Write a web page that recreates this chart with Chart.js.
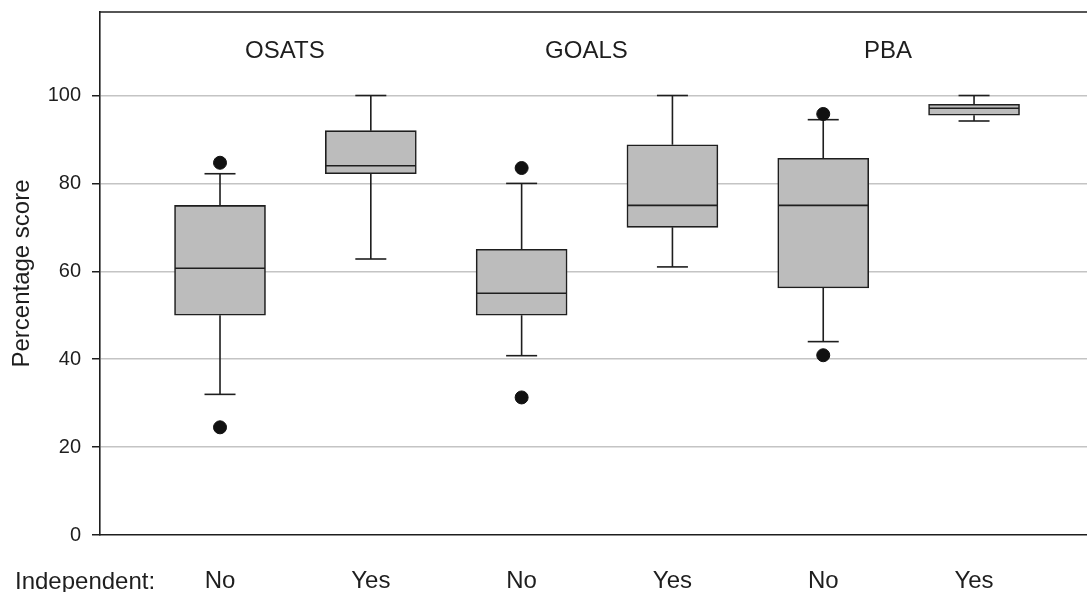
<!DOCTYPE html>
<html>
<head>
<meta charset="utf-8">
<script src="https://cdn.jsdelivr.net/npm/chart.js@4"></script>
<style>
  html, body { margin: 0; padding: 0; background: #fff; }
  #wrap { width: 1087px; height: 592px; }
</style>
</head>
<body>
<div id="wrap"><canvas id="grafica"></canvas></div>
<script>
// Box plot data (percentage scores)
const categories = ['No', 'Yes', 'No', 'Yes', 'No', 'Yes'];
const positions = [1, 2, 3, 4, 5, 6];
const groups = ['OSATS', 'GOALS', 'PBA'];
const groupPos = [1.43, 3.43, 5.43];
const whiskerLow = [32, 62.8, 40.8, 61, 44, 94.2];
const q1 = [50, 82.2, 50, 70, 56.2, 95.5];
const median = [60.7, 84, 55, 75, 75, 97.1];
const q3 = [75, 92, 65, 88.8, 85.7, 98];
const whiskerHigh = [82.2, 100, 80, 100, 94.5, 100];
const outliers = [[84.7, 24.5], [], [83.5, 31.3], [], [95.8, 40.9], []];
const yTicks = [0, 20, 40, 60, 80, 100];

const ink = '#1e1e1e';
const font = 'Liberation Sans, Arial, Helvetica, sans-serif';

// whiskers as one broken line
const whiskerPts = [];
positions.forEach((x, i) => {
    whiskerPts.push({x: x, y: whiskerLow[i]}, {x: x, y: q1[i]}, {x: x + 0.3, y: null});
    whiskerPts.push({x: x, y: q3[i]}, {x: x, y: whiskerHigh[i]}, {x: x + 0.3, y: null});
});
const capPts = [];
positions.forEach((x, i) => {
    capPts.push({x: x, y: whiskerLow[i]}, {x: x, y: whiskerHigh[i]});
});
const outlierPts = [];
positions.forEach((x, i) => outliers[i].forEach(v => outlierPts.push({x: x, y: v})));

const extras = {
    id: 'extras',
    afterDraw(chart) {
        const {ctx, chartArea, scales} = chart;
        ctx.save();
        // top frame line
        ctx.strokeStyle = ink;
        ctx.lineWidth = 1.5;
        ctx.beginPath();
        ctx.moveTo(chartArea.left - 0.75, chartArea.top);
        ctx.lineTo(chartArea.right, chartArea.top);
        ctx.stroke();
        ctx.fillStyle = ink;
        ctx.font = '24px ' + font;
        ctx.textAlign = 'center';
        ctx.textBaseline = 'middle';
        groups.forEach((g, i) => {
            ctx.fillText(g, scales.x.getPixelForValue(groupPos[i]), scales.y.getPixelForValue(110));
        });
        ctx.textAlign = 'left';
        ctx.textBaseline = 'alphabetic';
        ctx.fillText('Independent:', 15, 589);
        ctx.restore();
    }
};

const ctx = document.getElementById('grafica').getContext('2d');
const grafica = new Chart(ctx, {
    type: 'bar',
    data: {
        datasets: [
            {
                type: 'scatter',
                data: outlierPts,
                pointStyle: 'circle',
                pointRadius: 6.5,
                backgroundColor: '#111',
                borderColor: '#111',
                order: 0
            },
            {
                type: 'scatter',
                data: capPts,
                pointStyle: 'line',
                pointRadius: 15.5,
                borderColor: ink,
                borderWidth: 1.6,
                order: 1
            },
            {
                type: 'scatter',
                data: positions.map((x, i) => ({x: x, y: median[i]})),
                pointStyle: 'line',
                pointRadius: 45,
                borderColor: ink,
                borderWidth: 1.6,
                order: 2
            },
            {
                type: 'bar',
                data: positions.map((x, i) => ({x: x, y: [q1[i], q3[i]]})),
                backgroundColor: '#bcbcbc',
                borderColor: ink,
                borderWidth: 1.6,
                borderSkipped: false,
                barThickness: 91,
                order: 3
            },
            {
                type: 'line',
                data: whiskerPts,
                borderColor: ink,
                borderWidth: 1.6,
                pointRadius: 0,
                spanGaps: false,
                order: 4
            }
        ]
    },
    options: {
        responsive: true,
        maintainAspectRatio: false,
        animation: false,
        events: [],
        layout: { autoPadding: false, padding: { top: 12, right: 0, left: 0, bottom: 0 } },
        plugins: {
            legend: { display: false },
            tooltip: { enabled: false }
        },
        scales: {
            x: {
                type: 'linear',
                offset: false,
                min: 0.2042,
                max: 6.749,
                afterBuildTicks: (s) => { s.ticks = positions.map(v => ({value: v})); },
                afterFit: (s) => { s.height = 57; s.paddingLeft = 0; s.paddingRight = 0; },
                ticks: {
                    callback: (v) => categories[positions.indexOf(v)] || '',
                    color: ink,
                    font: { family: font, size: 24 },
                    padding: 32,
                    autoSkip: false,
                    maxRotation: 0
                },
                grid: { display: true, offset: false, drawOnChartArea: false, drawTicks: false },
                border: { color: ink, width: 1.6 }
            },
            y: {
                min: 0,
                max: 119,
                afterBuildTicks: (s) => { s.ticks = yTicks.map(v => ({value: v})); },
                afterFit: (s) => { s.width = 100; s.paddingTop = 0; s.paddingBottom = 0; },
                ticks: {
                    color: ink,
                    font: { family: font, size: 20 },
                    padding: 11
                },
                grid: {
                    color: (c) => c.tick && c.tick.value === 0 ? 'rgba(0,0,0,0)' : '#c4c4c4',
                    lineWidth: 1.5,
                    tickColor: ink,
                    tickLength: 8
                },
                border: { color: ink, width: 1.6 },
                title: {
                    display: true,
                    text: 'Percentage score',
                    color: ink,
                    font: { family: font, size: 24 },
                    padding: { top: 8, bottom: 0 }
                }
            }
        }
    },
    plugins: [extras]
});
</script>
</body>
</html>
